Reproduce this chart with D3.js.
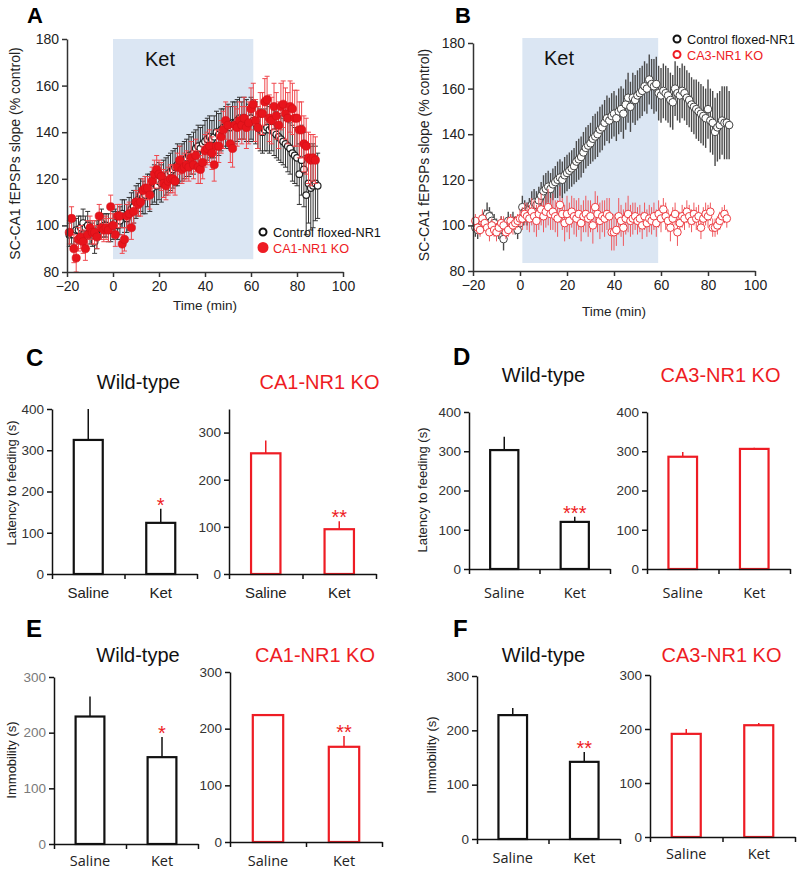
<!DOCTYPE html>
<html>
<head>
<meta charset="utf-8">
<script src="https://cdn.jsdelivr.net/npm/d3@7"></script>
<style>
  body { margin: 0; background: #fff; }
  svg { display: block; font-family: "Liberation Sans", Arial, sans-serif; }
</style>
</head>
<body>
<svg id="fig" width="800" height="869"></svg>
<script>
// ---------------- data ----------------
const timeMin = [
  -19,-18,-17,-16,-15,-14,-13,-12,-11,-10,
  -9,-8,-7,-6,-5,-4,-3,-2,-1,0,
  1,2,3,4,5,6,7,8,9,10,
  11,12,13,14,15,16,17,18,19,20,
  21,22,23,24,25,26,27,28,29,30,
  31,32,33,34,35,36,37,38,39,40,
  41,42,43,44,45,46,47,48,49,50,
  51,52,53,54,55,56,57,58,59,60,
  61,62,63,64,65,66,67,68,69,70,
  71,72,73,74,75,76,77,78,79,80,
  81,82,83,84,85,86,87,88,89
];

// panel A: control floxed-NR1 vs CA1-NR1 KO
const ctlA = [
  96,97,96,98,98,99,101,99,100,97,
  96,93,96,99,101,100,100,99,98,100,
  101,100,102,105,104,103,105,107,108,110,
  111,113,112,113,115,114,116,118,117,119,
  118,120,121,122,123,124,125,126,126,127,
  128,129,130,130,131,133,134,133,135,136,
  137,138,137,138,140,139,141,142,142,143,
  142,144,144,145,146,145,146,145,144,146,
  145,144,142,141,140,141,142,141,142,140,
  139,138,137,136,135,134,133,131,130,129,
  122,128,124,113,118,116,117,118,117
];
const ctlAErr = [
  5,5,6,5,6,5,6,5,6,5,
  5,5,6,5,6,5,5,6,5,6,
  6,6,6,6,7,6,7,7,7,7,
  7,7,7,8,7,8,7,8,8,8,
  8,8,8,8,8,8,8,9,8,8,
  8,8,9,8,9,8,9,9,8,9,
  9,9,8,9,9,9,9,8,9,9,
  9,9,9,9,9,8,9,9,8,9,
  9,9,9,9,9,9,10,10,10,10,
  10,10,10,10,10,11,11,12,12,12,
  13,15,16,17,17,18,18,16,14
];
const koA = [
  97,103,90,86,94,95,93,90,96,99,
  97,97,95,104,99,98,99,98,108,100,
  96,104,104,92,94,104,105,99,106,110,
  109,110,115,116,116,113,119,122,124,122,
  121,118,117,119,120,120,119,125,128,124,
  125,126,125,129,126,130,125,124,127,132,
  133,134,131,126,134,134,138,141,145,143,
  135,133,143,142,145,143,146,142,144,150,
  152,145,142,148,148,153,154,146,145,151,
  147,143,151,152,148,146,151,150,146,146,
  141,141,135,134,129,128,129,128
];
const koAErr = [
  5,5,6,6,5,5,5,5,6,5,
  5,5,5,5,5,5,5,5,5,5,
  5,5,5,4,5,5,5,5,5,5,
  5,6,5,5,5,6,6,6,6,6,
  6,6,6,6,6,6,6,6,6,6,
  6,6,6,7,6,7,7,6,7,7,
  7,7,7,7,7,7,7,8,8,8,
  8,8,8,8,8,8,9,9,9,9,
  9,9,9,9,9,10,10,10,10,10,
  10,10,10,10,11,11,11,11,12,12,
  12,12,12,12,11,11,10,10
];

// panel B: control floxed-NR1 vs CA3-NR1 KO
const ctlB = [
  99,98,100,101,103,105,104,102,101,99,
  98,100,94,99,102,101,102,100,98,101,
  108,106,105,107,109,110,109,111,113,115,
  116,117,116,118,119,120,121,120,122,123,
  124,125,126,128,129,130,132,134,135,136,
  138,139,140,142,143,145,147,146,148,149,
  147,150,151,149,153,156,152,156,155,157,
  158,159,161,160,164,162,161,162,158,157,
  159,158,157,155,154,160,158,157,159,158,
  156,155,153,152,151,150,149,148,147,151,
  146,145,141,143,144,146,145,145,144
];
const ctlBErr = [
  4,4,4,4,4,5,4,4,4,4,
  4,4,5,4,4,4,4,4,4,4,
  5,5,5,5,6,6,6,6,6,7,
  7,7,7,7,7,8,8,8,8,8,
  8,8,8,9,9,9,9,9,9,9,
  10,10,10,10,10,10,10,10,10,10,
  10,10,10,11,11,11,11,11,11,11,
  11,11,11,11,11,11,12,12,12,12,
  12,12,12,12,12,12,12,12,12,12,
  12,12,12,12,13,13,13,13,13,13,
  14,14,15,15,15,15,16,16,15
];
const koB = [
  102,99,98,103,101,99,97,100,98,97,
  99,101,100,97,98,102,100,101,102,103,
  103,105,104,103,106,104,102,105,107,104,
  106,108,105,106,104,103,109,105,101,105,
  102,106,104,103,105,101,104,105,103,104,
  100,108,105,102,104,103,105,104,97,97,
  98,104,102,99,103,105,102,103,104,102,
  103,100,104,101,103,102,104,101,105,103,
  107,104,102,99,103,105,97,101,104,103,
  106,104,102,105,103,104,99,103,105,104,
  106,99,99,100,102,104,105,103
];
const koBErr = [
  3,3,3,4,3,3,4,3,3,4,
  3,3,4,3,3,3,4,3,3,4,
  5,5,6,6,6,7,7,7,7,7,
  7,8,7,8,7,8,8,7,8,8,
  8,7,8,8,7,8,7,8,8,7,
  8,7,8,8,7,8,7,8,8,8,
  7,8,7,8,7,8,7,7,6,6,
  6,6,6,6,6,6,6,6,6,6,
  5,6,5,6,5,5,6,5,5,5,
  5,5,5,5,5,5,5,5,5,5,
  4,4,4,4,4,4,4,4
];

// panels C-F: bar charts
const barCats = ["Saline", "Ket"];
const latCA1wt = [325, 124], latCA1wtErr = [75, 34], latCA1wtStars = ["", "*"];
const latCA1ko = [256, 95],  latCA1koErr = [27, 17], latCA1koStars = ["", "**"];
const latCA3wt = [303, 120], latCA3wtErr = [34, 13], latCA3wtStars = ["", "***"];
const latCA3ko = [286, 306], latCA3koErr = [12, 3],  latCA3koStars = ["", ""];
const immCA1wt = [229, 156], immCA1wtErr = [36, 36], immCA1wtStars = ["", "*"];
const immCA1ko = [224, 168], immCA1koErr = [0, 19],  immCA1koStars = ["", "**"];
const immCA3wt = [228, 142], immCA3wtErr = [13, 18], immCA3wtStars = ["", "**"];
const immCA3ko = [191, 207], immCA3koErr = [9, 4],   immCA3koStars = ["", ""];

const timeTicks = [-20, 0, 20, 40, 60, 80, 100];
const slopeTicks = [80, 100, 120, 140, 160, 180];

// ---------------- drawing ----------------
const RED = "#ee1c24";
const svg = d3.select("#fig");
svg.append("rect").attr("width", 800).attr("height", 869).attr("fill", "#fff");

function styleAxis(g, color, labelColor, fontSize, family) {
  g.select(".domain").attr("stroke", color).attr("stroke-width", 1.5);
  g.selectAll(".tick line").attr("stroke", color).attr("stroke-width", 1.5);
  g.selectAll(".tick text").attr("fill", labelColor).attr("font-size", fontSize)
    .attr("font-family", family || null);
}

function panelLetter(txt, x, y, size) {
  svg.append("text").attr("x", x).attr("y", y).attr("font-size", size || 24)
    .attr("font-weight", "bold").attr("fill", "#000").text(txt);
}

function timePanel(o) {
  const x = d3.scaleLinear().domain([-20, 100]).range([o.x0, o.x1]);
  const y = d3.scaleLinear().domain([80, 180]).range([o.yBot, o.yTop]);
  const g = svg.append("g");

  g.append("rect")
    .attr("x", x(o.ket[0])).attr("width", x(o.ket[1]) - x(o.ket[0]))
    .attr("y", y(o.ket[3])).attr("height", y(o.ket[2]) - y(o.ket[3]))
    .attr("fill", "#dbe6f3");
  g.append("text").attr("x", o.ketLabel[0]).attr("y", o.ketLabel[1])
    .attr("font-size", 20).attr("fill", "#111").text("Ket");

  o.series.forEach(s => {
    const pts = d3.zip(timeMin, s.v, s.e);
    const eg = g.append("g").attr("stroke", s.errColor).attr("stroke-width", s.errWidth);
    eg.selectAll("line.err").data(pts).join("line")
      .attr("x1", d => x(d[0])).attr("x2", d => x(d[0]))
      .attr("y1", d => y(d[1] - d[2])).attr("y2", d => y(d[1] + d[2]));
    if (s.cap) {
      [1, -1].forEach(sg => {
        eg.selectAll(null).data(pts).join("line")
          .attr("x1", d => x(d[0]) - s.cap).attr("x2", d => x(d[0]) + s.cap)
          .attr("y1", d => y(d[1] + sg * d[2])).attr("y2", d => y(d[1] + sg * d[2]));
      });
    }
    g.append("g").selectAll("circle").data(pts).join("circle")
      .attr("cx", d => x(d[0])).attr("cy", d => y(d[1])).attr("r", s.r)
      .attr("fill", s.fill).attr("stroke", s.stroke).attr("stroke-width", s.sw);
  });

  const ya = g.append("g").attr("transform", `translate(${o.x0},0)`)
    .call(d3.axisLeft(y).tickValues(slopeTicks).tickSize(5).tickSizeOuter(0).tickPadding(3));
  styleAxis(ya, "#333", "#222", 14);
  const xa = g.append("g").attr("transform", `translate(0,${o.yBot})`)
    .call(d3.axisBottom(x).tickValues(timeTicks).tickSize(5).tickSizeOuter(0).tickPadding(4));
  styleAxis(xa, "#333", "#222", 14);

  g.append("text").attr("x", (o.x0 + o.x1) / 2).attr("y", o.xLabelY)
    .attr("text-anchor", "middle").attr("font-size", 13.5).attr("fill", "#222").text("Time (min)");
  g.append("text")
    .attr("transform", `translate(${o.yLabelX},${(o.yTop + o.yBot) / 2 - 2}) rotate(-90)`)
    .attr("text-anchor", "middle").attr("font-size", 14).attr("fill", "#222")
    .text("SC-CA1 fEPSPs slope (% control)");

  o.legend.forEach((l, i) => {
    const ly = o.legendY + i * 15.5;
    g.append("circle").attr("cx", o.legendX).attr("cy", ly).attr("r", l.r)
      .attr("fill", l.fill).attr("stroke", l.stroke).attr("stroke-width", 2);
    g.append("text").attr("x", o.legendX + 10).attr("y", ly + 5)
      .attr("font-size", 12.7).attr("fill", l.color).text(l.label);
  });
}

panelLetter("A", 27, 23, 22);
timePanel({
  x0: 67, x1: 343, yTop: 39, yBot: 272,
  ket: [0, 61, 85.5, 180], ketLabel: [145, 66],
  xLabelY: 310, yLabelX: 20,
  legendX: 263, legendY: 232,
  legend: [
    { label: "Control floxed-NR1", r: 3.5, fill: "#fff", stroke: "#111", color: "#111" },
    { label: "CA1-NR1 KO", r: 4.5, fill: RED, stroke: RED, color: RED }
  ],
  series: [
    { v: ctlA, e: ctlAErr, errColor: "#333", errWidth: 1, cap: 2.5, r: 3.3, fill: "#fff", stroke: "#222", sw: 1.2 },
    { v: koA, e: koAErr, errColor: "#f0484e", errWidth: 1, cap: 2.5, r: 4.1, fill: "#e8141c", stroke: "#d01018", sw: 0.6 }
  ]
});

panelLetter("B", 455, 23, 22);
timePanel({
  x0: 473, x1: 755, yTop: 43, yBot: 271,
  ket: [1, 58.8, 83.5, 182.2], ketLabel: [544, 65],
  xLabelY: 316, yLabelX: 429,
  legendX: 677, legendY: 39,
  legend: [
    { label: "Control floxed-NR1", r: 3.5, fill: "#fff", stroke: "#111", color: "#111" },
    { label: "CA3-NR1 KO", r: 3.5, fill: "#fff", stroke: RED, color: RED }
  ],
  series: [
    { v: ctlB, e: ctlBErr, errColor: "#4a4a4a", errWidth: 1.4, cap: 0, r: 3.8, fill: "#fff", stroke: "#444", sw: 1 },
    { v: koB, e: koBErr, errColor: "#f0585d", errWidth: 1, cap: 0, r: 3.8, fill: "#fff", stroke: "#ee3a40", sw: 1 }
  ]
});

function barPanel(o) {
  const y = d3.scaleLinear().domain([0, o.max]).range([o.y0, o.yTop]);
  const xb = d3.scaleBand().domain(barCats).range([o.x0, o.x1]);
  const edge = d3.scaleLinear().domain([0, 2]).range([o.x0, o.x1]);
  const bw = xb.bandwidth() * 0.4;
  const g = svg.append("g");
  const rows = d3.zip(barCats, o.vals, o.errs, o.stars);

  g.selectAll("line.eb").data(rows.filter(d => d[2] > 0)).join("line")
    .attr("x1", d => xb(d[0]) + xb.bandwidth() / 2).attr("x2", d => xb(d[0]) + xb.bandwidth() / 2)
    .attr("y1", d => y(d[1])).attr("y2", d => y(d[1] + d[2]))
    .attr("stroke", o.color).attr("stroke-width", 1.5);
  g.selectAll("rect").data(rows).join("rect")
    .attr("x", d => xb(d[0]) + (xb.bandwidth() - bw) / 2).attr("width", bw)
    .attr("y", d => y(d[1])).attr("height", d => y(0) - y(d[1]))
    .attr("fill", "#fff").attr("stroke", o.color).attr("stroke-width", 2.2);
  g.selectAll("text.star").data(rows.filter(d => d[3])).join("text")
    .attr("x", d => xb(d[0]) + xb.bandwidth() / 2).attr("y", d => y(d[1] + d[2]) + 3)
    .attr("text-anchor", "middle").attr("font-size", 20).attr("fill", RED).text(d => d[3]);

  const ya = g.append("g").attr("transform", `translate(${o.x0},0)`)
    .call(d3.axisLeft(y).tickValues(o.ticks).tickSize(5).tickSizeOuter(0).tickPadding(3));
  styleAxis(ya, "#111", o.tickColor || "#333", 13.5);
  const xa = g.append("g").attr("transform", `translate(0,${o.y0})`)
    .call(d3.axisBottom(edge).tickValues([0, 1, 2]).tickFormat("").tickSize(5).tickSizeOuter(0));
  styleAxis(xa, "#111", "#333", 13);

  g.selectAll("text.cat").data(barCats).join("text")
    .attr("x", d => xb(d) + xb.bandwidth() / 2).attr("y", o.catY)
    .attr("text-anchor", "middle").attr("font-size", o.catSize)
    .attr("font-family", o.catFont).attr("fill", "#222").text(d => d);

  svg.append("text").attr("x", (o.x0 + o.x1) / 2 + o.titleDx).attr("y", o.titleY)
    .attr("text-anchor", "middle").attr("font-size", 20).attr("fill", o.titleColor).text(o.title);

  if (o.yLabel) {
    svg.append("text")
      .attr("transform", `translate(${o.yLabelX},${o.yLabelY}) rotate(-90)`)
      .attr("text-anchor", "middle").attr("font-size", 13).attr("fill", "#222").text(o.yLabel);
  }
}

const ARIAL = "'Liberation Sans', Arial, sans-serif";
const SEGOE = "'Open Sans', 'Noto Sans', sans-serif";

// C
panelLetter("C", 26, 366);
barPanel({ x0: 52, x1: 197, y0: 574, yTop: 409, max: 400, ticks: [0, 100, 200, 300, 400],
  vals: latCA1wt, errs: latCA1wtErr, stars: latCA1wtStars, color: "#111",
  catY: 598, catSize: 15, catFont: ARIAL,
  title: "Wild-type", titleColor: "#111", titleY: 389, titleDx: 14,
  yLabel: "Latency to feeding (s)", yLabelX: 16, yLabelY: 483 });
barPanel({ x0: 229, x1: 376, y0: 574, yTop: 409, max: 350, ticks: [0, 100, 200, 300],
  vals: latCA1ko, errs: latCA1koErr, stars: latCA1koStars, color: RED,
  catY: 598, catSize: 15, catFont: ARIAL,
  title: "CA1-NR1 KO", titleColor: RED, titleY: 389, titleDx: 17 });

// D
panelLetter("D", 453, 365);
barPanel({ x0: 469, x1: 610, y0: 569, yTop: 412, max: 400, ticks: [0, 100, 200, 300, 400],
  vals: latCA3wt, errs: latCA3wtErr, stars: latCA3wtStars, color: "#111",
  catY: 598, catSize: 14.5, catFont: SEGOE,
  title: "Wild-type", titleColor: "#111", titleY: 382, titleDx: 4,
  yLabel: "Latency to feeding  (s)", yLabelX: 427, yLabelY: 490 });
barPanel({ x0: 647, x1: 790, y0: 569, yTop: 412, max: 400, ticks: [0, 100, 200, 300, 400],
  vals: latCA3ko, errs: latCA3koErr, stars: latCA3koStars, color: RED,
  catY: 598, catSize: 14.5, catFont: SEGOE,
  title: "CA3-NR1 KO", titleColor: RED, titleY: 382, titleDx: 2 });

// E
panelLetter("E", 26, 637);
barPanel({ x0: 54, x1: 198, y0: 844, yTop: 677, max: 300, ticks: [0, 100, 200, 300],
  vals: immCA1wt, errs: immCA1wtErr, stars: immCA1wtStars, color: "#111", tickColor: "#7a7a7a",
  catY: 866, catSize: 14.5, catFont: SEGOE,
  title: "Wild-type", titleColor: "#111", titleY: 662, titleDx: 12,
  yLabel: "Immobility (s)", yLabelX: 16, yLabelY: 760 });
barPanel({ x0: 230, x1: 382, y0: 842, yTop: 672, max: 300, ticks: [0, 100, 200, 300],
  vals: immCA1ko, errs: immCA1koErr, stars: immCA1koStars, color: RED,
  catY: 866, catSize: 14.5, catFont: SEGOE,
  title: "CA1-NR1 KO", titleColor: RED, titleY: 662, titleDx: 9 });

// F
panelLetter("F", 453, 637);
barPanel({ x0: 477, x1: 620, y0: 839, yTop: 676, max: 300, ticks: [0, 100, 200, 300],
  vals: immCA3wt, errs: immCA3wtErr, stars: immCA3wtStars, color: "#111",
  catY: 863, catSize: 14.5, catFont: SEGOE,
  title: "Wild-type", titleColor: "#111", titleY: 662, titleDx: -5,
  yLabel: "Immobility (s)", yLabelX: 436, yLabelY: 755 });
barPanel({ x0: 650, x1: 795, y0: 837, yTop: 675, max: 300, ticks: [0, 100, 200, 300],
  vals: immCA3ko, errs: immCA3koErr, stars: immCA3koStars, color: RED,
  catY: 859, catSize: 14.5, catFont: SEGOE,
  title: "CA3-NR1 KO", titleColor: RED, titleY: 662, titleDx: -1 });
</script>
</body>
</html>
